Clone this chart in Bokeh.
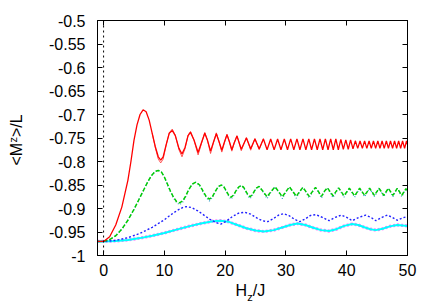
from math import pi
from bokeh.plotting import figure
from bokeh.layouts import row, column
from bokeh.models import FixedTicker, LinearAxis, Span, Label, CustomJSTickFormatter, Range1d
from bokeh.embed import file_html
from bokeh.resources import INLINE

# ---------------- data ----------------
x_ticks = [0, 10, 20, 30, 40, 50]
y_ticks = [-1.0, -0.95, -0.9, -0.85, -0.8, -0.75, -0.7, -0.65, -0.6, -0.55, -0.5]
y_labels = ["-1", "-0.95", "-0.9", "-0.85", "-0.8", "-0.75", "-0.7", "-0.65", "-0.6", "-0.55", "-0.5"]

red_h = [-1, 0, 1, 2, 3, 4, 4.5, 5, 5.5, 6,
         6.5, 7, 7.5, 8, 8.5, 9, 9.4, 9.8, 10.3, 10.8,
         11.3, 11.8, 12.4, 12.9, 13.4, 13.9, 14.3, 14.9, 15.55, 16.1,
         16.65, 17.1, 17.6, 18.1, 18.55, 19.0, 19.45, 19.9, 20.3, 20.7,
         21.1, 21.5, 21.95, 22.3, 22.65, 23.5, 24.2, 24.9, 25.6, 26.3,
         26.9, 27.49, 28.06, 28.63, 29.18, 29.73, 30.26, 30.78, 31.3, 31.81,
         32.3, 32.8, 33.28, 33.76, 34.22, 34.69, 35.15, 35.6, 36.05, 36.49,
         36.93, 37.36, 37.79, 38.21, 38.62, 39.03, 39.44, 39.85, 40.25, 40.64,
         41.03, 41.42, 41.81, 42.19, 42.57, 42.94, 43.31, 43.68, 44.04, 44.4,
         44.76, 45.12, 45.47, 45.82, 46.17, 46.52, 46.86, 47.2, 47.54, 47.87,
         48.21, 48.54, 48.87, 49.19, 49.52, 49.84, 50]
red_y = [-0.970, -0.970, -0.960, -0.935, -0.897, -0.840, -0.800, -0.755, -0.722, -0.700,
         -0.690, -0.694, -0.712, -0.740, -0.768, -0.790, -0.797, -0.790, -0.764, -0.740,
         -0.734, -0.745, -0.772, -0.784, -0.770, -0.745, -0.738, -0.755, -0.781, -0.760,
         -0.740, -0.755, -0.778, -0.758, -0.741, -0.758, -0.776, -0.758, -0.743, -0.758,
         -0.775, -0.760, -0.746, -0.760, -0.774, -0.750, -0.773, -0.752, -0.773, -0.752,
         -0.775, -0.752, -0.775, -0.752, -0.775, -0.752, -0.775, -0.752, -0.775, -0.752,
         -0.775, -0.752, -0.775, -0.752, -0.775, -0.752, -0.775, -0.752, -0.775, -0.752,
         -0.775, -0.752, -0.775, -0.752, -0.775, -0.753, -0.774, -0.754, -0.774, -0.754,
         -0.773, -0.756, -0.772, -0.756, -0.772, -0.756, -0.772, -0.756, -0.772, -0.756,
         -0.772, -0.756, -0.772, -0.756, -0.772, -0.756, -0.772, -0.756, -0.772, -0.756,
         -0.772, -0.756, -0.772, -0.756, -0.772, -0.756, -0.764]

red2_h = [8, 8.5, 9, 9.4, 9.8, 10.3, 10.8, 11.3, 11.8, 12.4,
          12.9, 13.4, 13.9, 14.3, 14.9, 15.55, 16.1, 16.65, 17.1, 17.6,
          18.1, 18.55, 19.0, 19.45, 19.9, 20.3, 20.7, 21.1, 21.5, 21.95,
          22.3, 22.65, 23.5, 24.2, 24.9, 25.6, 26.3]
red2_y = [-0.740, -0.770, -0.795, -0.803, -0.795, -0.765, -0.739, -0.731, -0.744, -0.775,
          -0.790, -0.773, -0.744, -0.736, -0.756, -0.786, -0.762, -0.738, -0.756, -0.783,
          -0.759, -0.739, -0.758, -0.780, -0.759, -0.742, -0.758, -0.778, -0.760, -0.745,
          -0.760, -0.777, -0.749, -0.776, -0.751, -0.775, -0.751]

green_h = [-1, 0, 1, 2, 3, 4, 5, 6, 7, 7.5,
           8, 8.5, 9, 9.5, 10, 10.5, 11, 11.5, 12, 12.5,
           13, 13.5, 14, 14.6, 15.2, 15.8, 16.4, 16.9, 17.4, 17.9,
           18.4, 18.9, 19.4, 19.8, 20.2, 20.6, 20.97, 21.4, 21.8, 22.25,
           22.7, 23.05, 23.4, 23.75, 24.1, 24.5, 24.85, 25.2, 25.6,
           26.25, 26.9, 27.55, 28.2, 28.8, 29.4, 30.0, 30.58, 31.15, 31.7,
           32.25, 32.79, 33.3, 33.8, 34.35, 34.86, 35.35, 35.85, 36.3, 36.81,
           37.75, 38.67, 39.55, 40.44, 41.3, 42.13, 42.95, 43.76, 44.55, 45.33,
           46.1, 46.85, 47.6, 48.32, 49.05, 49.75, 50]
green_y = [-0.970, -0.970, -0.966, -0.958, -0.944, -0.925, -0.902, -0.876, -0.850, -0.838,
           -0.828, -0.821, -0.819, -0.822, -0.833, -0.848, -0.863, -0.876, -0.885, -0.888,
           -0.884, -0.874, -0.860, -0.848, -0.844, -0.850, -0.864, -0.875, -0.880, -0.875,
           -0.863, -0.853, -0.850, -0.854, -0.863, -0.872, -0.876, -0.871, -0.862, -0.854,
           -0.851, -0.855, -0.863, -0.871, -0.875, -0.870, -0.862, -0.856, -0.853,
           -0.864, -0.875, -0.864, -0.854, -0.864, -0.875, -0.864, -0.854, -0.864, -0.874,
           -0.864, -0.855, -0.864, -0.874, -0.864, -0.855, -0.864, -0.874, -0.864, -0.856,
           -0.873, -0.856, -0.873, -0.857, -0.873, -0.857, -0.872, -0.857, -0.872, -0.857,
           -0.872, -0.857, -0.872, -0.857, -0.872, -0.858, -0.862]
green2_y = [-0.970, -0.970, -0.966, -0.958, -0.944, -0.925, -0.902, -0.876, -0.850, -0.838,
            -0.828, -0.821, -0.819, -0.822, -0.833, -0.849, -0.864, -0.878, -0.887, -0.892,
            -0.887, -0.875, -0.860, -0.848, -0.844, -0.851, -0.866, -0.877, -0.884, -0.877,
            -0.864, -0.853, -0.850, -0.855, -0.864, -0.874, -0.880, -0.873, -0.863, -0.854,
            -0.851, -0.856, -0.864, -0.873, -0.879, -0.872, -0.863, -0.856, -0.853,
            -0.865, -0.879, -0.865, -0.854, -0.865, -0.879, -0.865, -0.854, -0.865, -0.878,
            -0.865, -0.855, -0.865, -0.878, -0.865, -0.855, -0.865, -0.878, -0.865, -0.856,
            -0.877, -0.856, -0.876, -0.857, -0.876, -0.857, -0.875, -0.857, -0.875, -0.857,
            -0.875, -0.857, -0.875, -0.857, -0.875, -0.858, -0.863]

blue_h = [-1, 0, 2, 4, 6, 8, 10, 11, 12, 13,
          13.6, 14.5, 15.5, 16.5, 17.5, 18.5, 19.3, 20.2, 21.2, 22.2,
          23.2, 24.2, 25.2, 26.1, 27.0, 27.9, 28.8, 29.6, 30.5, 31.4,
          32.3, 33.2, 34.0, 34.9, 36.0, 37.1, 38.1, 39.1, 40.0, 40.9,
          42.0, 43.1, 44.0, 44.8, 45.8, 46.7, 47.5, 48.3, 49.2, 50.0]
blue_y = [-0.970, -0.970, -0.968, -0.962, -0.953, -0.940, -0.924, -0.914, -0.905, -0.898,
          -0.896, -0.898, -0.905, -0.914, -0.923, -0.930, -0.933, -0.927, -0.917, -0.910,
          -0.908, -0.912, -0.920, -0.926, -0.928, -0.922, -0.914, -0.911, -0.915, -0.923,
          -0.928, -0.922, -0.915, -0.913, -0.919, -0.926, -0.919, -0.914, -0.919, -0.926,
          -0.919, -0.914, -0.919, -0.926, -0.919, -0.914, -0.919, -0.925, -0.920, -0.917]

cyan_h = [-1, 0, 2, 4, 6, 8, 10, 12, 14, 16,
          18, 19.3, 20.5, 22, 23.5, 25, 26.4, 28, 29.5, 30.7,
          31.9, 33.2, 34.5, 35.8, 37.1, 38.3, 39.6, 40.9, 41.9, 42.9,
          43.9, 44.8, 45.9, 47.1, 48.3, 49.2, 50.0]
cyan_y = [-0.970, -0.970, -0.969, -0.967, -0.963, -0.958, -0.952, -0.945, -0.938, -0.932,
          -0.927, -0.926, -0.928, -0.935, -0.942, -0.947, -0.949, -0.946, -0.940, -0.935,
          -0.932, -0.935, -0.941, -0.946, -0.948, -0.944, -0.937, -0.933, -0.935, -0.940,
          -0.944, -0.946, -0.943, -0.938, -0.935, -0.936, -0.937]
magenta_h = cyan_h
magenta_y = cyan_y

FONT = "Liberation Sans"
X_RANGE = (-1, 50)
Y_RANGE = (-1, -0.5)

# ---------------- main plot ----------------
p = figure(frame_width=310, frame_height=235,
           x_range=Range1d(*X_RANGE), y_range=Range1d(*Y_RANGE),
           output_backend="svg", toolbar_location=None,
           min_border_left=67, min_border_right=29, min_border_top=20, min_border_bottom=28)
p.xgrid.visible = False
p.ygrid.visible = False
p.outline_line_color = "black"
p.outline_line_width = 1
p.background_fill_color = "white"
p.border_fill_color = "white"

p.xaxis.ticker = FixedTicker(ticks=x_ticks)
p.yaxis.ticker = FixedTicker(ticks=y_ticks)
p.yaxis.major_label_overrides = dict(zip(y_ticks, y_labels))
for ax in (p.xaxis[0], p.yaxis[0]):
    ax.major_tick_in = 5
    ax.major_tick_out = 0
    ax.minor_tick_line_color = None
    ax.axis_line_color = "black"
    ax.major_tick_line_color = "black"
    ax.major_label_text_font = FONT
    ax.major_label_text_font_size = "16px"
    ax.major_label_text_color = "black"
p.xaxis.major_label_standoff = 8
p.yaxis.major_label_standoff = 12

blank = CustomJSTickFormatter(code="return ''")
right_ax = LinearAxis(ticker=FixedTicker(ticks=y_ticks), formatter=blank, major_tick_in=5,
                      major_tick_out=0, minor_tick_line_color=None, major_label_standoff=0,
                      major_label_text_font_size="1px")
top_ax = LinearAxis(ticker=FixedTicker(ticks=x_ticks), formatter=blank, major_tick_in=5,
                    major_tick_out=0, minor_tick_line_color=None, major_label_standoff=0,
                    major_label_text_font_size="1px")
p.add_layout(right_ax, "right")
p.add_layout(top_ax, "above")

p.add_layout(Span(location=0, dimension="height", line_color="black",
                  line_dash="2 3", line_width=1))

p.line(magenta_h, magenta_y, line_color="#ff77ff", line_width=3.2, line_dash="2 2")
p.line(cyan_h, cyan_y, line_color="#00ffff", line_width=2)
p.line(blue_h, blue_y, line_color="#2222ff", line_width=1.4, line_dash="2 2")
p.line(green_h, green2_y, line_color="#3aa0c8", line_width=1.2, line_dash="1 2")
p.line(green_h, green_y, line_color="#00cc00", line_width=1.5, line_dash="4 2")
p.line(red2_h, red2_y, line_color="#ff3030", line_width=0.8)
p.line(red_h, red_y, line_color="#ff0000", line_width=1.3)


def text_panel(fw, fh, xr, yr, left=0, right=0, top=0, bottom=0):
    f = figure(frame_width=fw, frame_height=fh, x_range=Range1d(*xr), y_range=Range1d(*yr),
               x_axis_location=None, y_axis_location=None,
               output_backend="svg", toolbar_location=None,
               min_border=0, min_border_left=left, min_border_right=right,
               min_border_top=top, min_border_bottom=bottom)
    f.grid.visible = False
    f.outline_line_color = None
    f.background_fill_color = "white"
    f.border_fill_color = "white"
    return f


tk = dict(text_font=FONT, text_color="black")

# x-axis title panel below the plot, frame aligned with the main frame (x in H units)
xt = text_panel(310, 22, X_RANGE, (0, 22), left=67, right=29)
xt.add_layout(Label(x=21.7, y=7, text="H", text_font_size="16px", **tk))
xt.add_layout(Label(x=23.65, y=3, text="z", text_font_size="11px", **tk))
xt.add_layout(Label(x=24.55, y=7, text="/J", text_font_size="16px", **tk))

# y-axis title panel left of the plot, frame aligned with the main frame (y in value units)
yt = text_panel(30, 235, (0, 30), Y_RANGE, top=20, bottom=50)
yt.add_layout(Label(x=24, y=-0.8085, text="<M", angle=pi / 2, text_font_size="16px", **tk))
yt.add_layout(Label(x=18, y=-0.7596, text="z", angle=pi / 2, text_font_size="11px", **tk))
yt.add_layout(Label(x=24, y=-0.7479, text=">/L", angle=pi / 2, text_font_size="16px", **tk))

layout = row(yt, column(p, xt, spacing=0), spacing=0)

open("out.html", "w").write(file_html(layout, INLINE))
